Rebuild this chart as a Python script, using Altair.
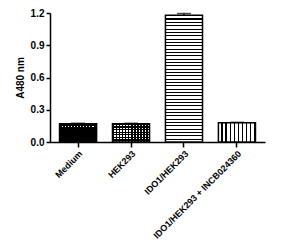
import altair as alt
import pandas as pd

groups = ["Medium", "HEK293", "IDO1/HEK293", "IDO1/HEK293 + INCB024360"]
values = [0.17, 0.17, 1.18, 0.18]
errors = [0.004, 0.004, 0.015, 0.003]
y_ticks = [0.0, 0.3, 0.6, 0.9, 1.2]

df = pd.DataFrame({"group": groups, "value": values, "err": errors})
df["hi"] = df["value"] + df["err"]


def stripes(n, on, off, frac, vertical=False, start=0.0):
    stops = []
    for i in range(n):
        a = (i + start) / n
        b = (i + start + frac) / n
        c = (i + 1) / n
        stops += [
            alt.GradientStop(color=off, offset=i / n),
            alt.GradientStop(color=off, offset=a),
            alt.GradientStop(color=on, offset=a),
            alt.GradientStop(color=on, offset=b),
            alt.GradientStop(color=off, offset=b),
            alt.GradientStop(color=off, offset=c),
        ]
    if vertical:
        return alt.LinearGradient(gradient="linear", stops=stops, x1=0, x2=1, y1=0, y2=0)
    return alt.LinearGradient(gradient="linear", stops=stops, x1=0, x2=0, y1=0, y2=1)


T = "rgba(0,0,0,0)"
xenc = alt.X(
    "group:N",
    sort=groups,
    scale=alt.Scale(domain=groups, paddingInner=0.3, paddingOuter=0.18),
    axis=alt.Axis(title=None, labelAngle=-45, labelFontSize=9, labelFontWeight="bold",
                  labelFont="Liberation Sans", tickSize=5, labelPadding=2),
)
yaxis = alt.Axis(title="A480 nm", values=y_ticks, format=".1f", labelFontSize=10,
                 labelFontWeight="bold", labelFont="Liberation Sans", labelOverlap=False,
                 titleFontSize=10, titleFontWeight="bold", titleFont="Liberation Sans",
                 tickSize=4, titlePadding=5, labelPadding=2)
yscale = alt.Scale(domain=[0, 1.2], nice=False)
yenc = alt.Y("value:Q", scale=yscale, axis=yaxis)

base = alt.Chart(df).encode(x=xenc, y=yenc)


def bar_layer(name, fill):
    return base.transform_filter(alt.datum.group == name).mark_bar(color=fill, strokeWidth=0)


layers = [
    bar_layer(groups[0], stripes(3, "white", "black", 0.12, start=0.45)),
    bar_layer(groups[0], stripes(12, "black", T, 0.65, vertical=True)),
    bar_layer(groups[1], stripes(12, "black", "white", 0.5, vertical=True)),
    bar_layer(groups[1], stripes(7, "black", T, 0.5)),
    bar_layer(groups[2], stripes(38, "black", "white", 0.35)),
    bar_layer(groups[3], stripes(9, "white", "black", 0.7, vertical=True)),
    base.mark_bar(fillOpacity=0, stroke="black", strokeWidth=1.5),
    base.mark_rule(color="black", strokeWidth=1.5).encode(
        y=alt.Y("value:Q", scale=yscale, axis=yaxis), y2="hi:Q"),
    base.mark_tick(color="black", size=14, thickness=1.5).encode(
        y=alt.Y("hi:Q", scale=yscale, axis=yaxis)),
]

chart = (
    alt.layer(*layers)
    .properties(width=215, height=129, autosize=alt.AutoSizeParams(type="none"),
                padding={"left": 50, "top": 13, "right": 18, "bottom": 104})
    .configure_view(stroke=None)
    .configure_axis(grid=False, domainColor="black", domainWidth=1.5, tickColor="black",
                    tickWidth=1.5, labelColor="black", titleColor="black", labelOverlap=False)
    .configure_axisY(labelOverlap=False)
)

chart.save("out.html", embed_options={"renderer": "svg", "actions": False})
